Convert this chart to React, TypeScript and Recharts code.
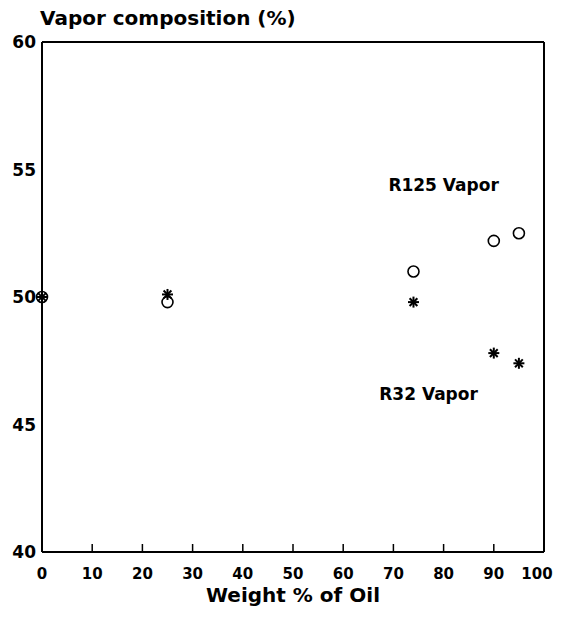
import React from "react";
import {
  ScatterChart,
  Scatter,
  XAxis,
  YAxis,
  ReferenceLine,
  ReferenceDot,
} from "recharts";

// weight % of oil in the mixture
const oilWeight = [0, 25, 74, 90, 95];
// vapor composition (%)
const r125Vapor = [50, 49.8, 51.0, 52.2, 52.5];
const r32Vapor = [50, 50.1, 49.8, 47.8, 47.4];

const xTicks = [0, 10, 20, 30, 40, 50, 60, 70, 80, 90, 100];
const yTicks = [40, 45, 50, 55, 60];

const r125Data = oilWeight.map((w, i) => ({ w, v: r125Vapor[i] }));
const r32Data = oilWeight.map((w, i) => ({ w, v: r32Vapor[i] }));

const FONT = "'DejaVu Sans', sans-serif";
const CHART_W = 545;
const CHART_H = 601;

const CircleMark = (props: any) => {
  const { cx, cy } = props;
  return (
    <circle cx={cx} cy={cy} r={5.5} fill="#fff" stroke="#000" strokeWidth={1.6} />
  );
};

const StarMark = (props: any) => {
  const { cx, cy } = props;
  const r = 5.5;
  const lines = [0, 45, 90, 135].map((a) => {
    const rad = (a * Math.PI) / 180;
    const dx = Math.cos(rad) * r;
    const dy = Math.sin(rad) * r;
    return (
      <line
        key={a}
        x1={cx - dx}
        y1={cy - dy}
        x2={cx + dx}
        y2={cy + dy}
        stroke="#000"
        strokeWidth={2}
      />
    );
  });
  return <g>{lines}</g>;
};

// ticks point inward, label below
const XTick = (props: any) => {
  const { x, y, payload } = props;
  // keep the last label inside the drawing
  const tx = Math.min(x, CHART_W - 16);
  return (
    <g>
      <line x1={x} y1={y} x2={x} y2={y - 8} stroke="#000" strokeWidth={1.5} />
      <text
        x={tx}
        y={y + 27}
        textAnchor="middle"
        fontFamily={FONT}
        fontWeight="bold"
        fontSize={15}
        fill="#000"
      >
        {payload.value}
      </text>
    </g>
  );
};

const YTick = (props: any) => {
  const { x, y, payload } = props;
  return (
    <text
      x={x - 6}
      y={y + 6}
      textAnchor="end"
      fontFamily={FONT}
      fontWeight="bold"
      fontSize={17}
      fill="#000"
    >
      {payload.value}
    </text>
  );
};

const annotation = (text: string) => ({
  value: text,
  position: "center" as const,
  style: { fontFamily: FONT, fontWeight: "bold", fontSize: 17, fill: "#000" },
});

export default function App() {
  return (
    <div style={{ position: "relative", width: CHART_W, height: CHART_H }}>
      <div
        style={{
          position: "absolute",
          left: 32,
          top: -1,
          fontFamily: FONT,
          fontWeight: "bold",
          fontSize: 20,
          lineHeight: "22px",
          color: "#000",
        }}
      >
        Vapor composition (%)
      </div>
      <ScatterChart
        width={CHART_W}
        height={CHART_H}
        margin={{ top: 34, right: 9, left: 0, bottom: 0 }}
      >
        <XAxis
          type="number"
          dataKey="w"
          domain={[0, 100]}
          ticks={xTicks}
          interval={0}
          tickSize={0}
          tickMargin={0}
          tick={<XTick />}
          axisLine={{ stroke: "#000", strokeWidth: 2 }}
          height={57}
          label={{
            value: "Weight % of Oil",
            position: "insideBottom",
            offset: 7,
            style: { fontFamily: FONT, fontWeight: "bold", fontSize: 20, fill: "#000" },
          }}
        />
        <YAxis
          type="number"
          dataKey="v"
          domain={[40, 60]}
          ticks={yTicks}
          interval={0}
          tickSize={0}
          tickMargin={0}
          tick={<YTick />}
          axisLine={{ stroke: "#000", strokeWidth: 2 }}
          width={34}
        />
        <ReferenceLine x={100} stroke="#000" strokeWidth={2} />
        <ReferenceLine y={60} stroke="#000" strokeWidth={2} />
        <ReferenceDot x={80} y={54.4} r={0} stroke="none" label={annotation("R125 Vapor")} />
        <ReferenceDot x={77} y={46.2} r={0} stroke="none" label={annotation("R32 Vapor")} />
        <Scatter data={r125Data} shape={<CircleMark />} isAnimationActive={false} />
        <Scatter data={r32Data} shape={<StarMark />} isAnimationActive={false} />
      </ScatterChart>
    </div>
  );
}
